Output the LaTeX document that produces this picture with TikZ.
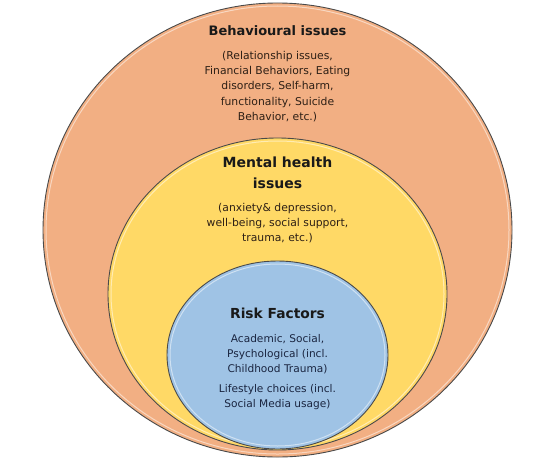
\documentclass[tikz,border=0pt]{standalone}
\usepackage{fontspec}
\setmainfont{DejaVu Sans}
\usepackage{tikz}
\usetikzlibrary{positioning,shapes.geometric}
\definecolor{SoftPeach}{HTML}{F2AF83}
\definecolor{SoftYellow}{HTML}{FFD966}
\definecolor{SoftSky}{HTML}{9FC3E5}
\definecolor{RimGray}{HTML}{4A4A4A}
\definecolor{InkBrown}{HTML}{2E2016}
\definecolor{InkNavy}{HTML}{1A2540}

\begin{document}
\begin{tikzpicture}[
  x=1pt,y=1pt,
  ring/.style={ellipse,draw=RimGray,line width=0.9pt,inner sep=0pt},
  shine/.style={draw=white,line width=1pt,opacity=0.5},
  head/.style={font=\fontsize{13}{21}\selectfont\bfseries,align=center,text=black!90,inner sep=0pt},
  body/.style={font=\fontsize{10.8}{15.2}\selectfont,align=center,text=InkBrown,inner sep=0pt}
]
\useasboundingbox (0,0) rectangle (534,467);
\node[ring,fill=SoftPeach,minimum width=469pt,minimum height=454pt] (behav) at (277.5,237) {};
\draw[shine] (behav.center) ellipse [x radius=231.5, y radius=224];
\node[ring,fill=SoftYellow,minimum width=339pt,minimum height=312pt] (mental) at (277.5,173) {};
\draw[shine] (mental.center) ellipse [x radius=166.5, y radius=153];
\node[ring,fill=SoftSky,minimum width=221pt,minimum height=188pt] (risk) at (277.5,112) {};
\draw[shine] (risk.center) ellipse [x radius=107.5, y radius=91];
\node[head] (behavtitle) at (277.5,436) {Behavioural issues};
\node[body] (behavlist) at (277.5,380.5) {(Relationship issues,\\Financial Behaviors, Eating\\disorders, Self-harm,\\functionality, Suicide\\Behavior, etc.)};
\node[head,font=\fontsize{14}{21}\selectfont\bfseries] (mentaltitle) at (277.5,294.5) {Mental health\\issues};
\node[body] (mentallist) at (277.5,244) {(anxiety\& depression,\\well-being, social support,\\trauma, etc.)};
\node[head,font=\fontsize{13.8}{21}\selectfont\bfseries] (risktitle) at (277.5,154) {Risk Factors};
\node[body,text=InkNavy,font=\fontsize{10.6}{15}\selectfont] (risklist) at (277.5,113) {Academic, Social,\\Psychological (incl.\\Childhood Trauma)};
\node[body,text=InkNavy,font=\fontsize{10.6}{15}\selectfont] (lifestyle) at (277.5,69.5) {Lifestyle choices (incl.\\Social Media usage)};
\end{tikzpicture}
\end{document}
